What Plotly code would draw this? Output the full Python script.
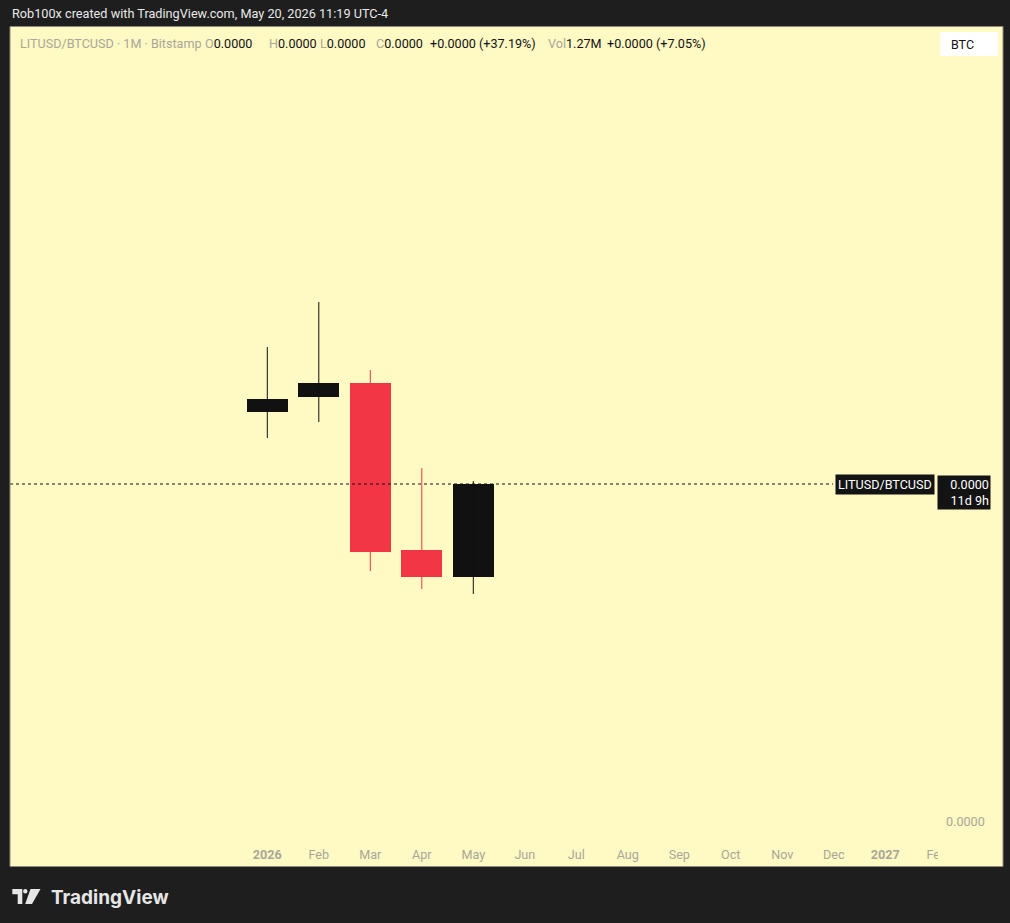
import plotly.graph_objects as go

# ---- data (prices in satoshi, 1e-8 BTC) ----
months = ["2026-01", "2026-02", "2026-03", "2026-04", "2026-05"]
open_ = [410, 425, 439, 272, 245]
high = [475, 520, 452, 354, 341]
low = [384, 400, 251, 233, 228]
close = [423, 439, 270, 245, 338]
last_price = 338

axis_labels = ["<b>2026</b>", "Feb", "Mar", "Apr", "May", "Jun", "Jul", "Aug",
               "Sep", "Oct", "Nov", "Dec", "<b>2027</b>", "Feb"]

# ---- styles ----
W, H = 1010, 923
ML, MR, MT, MB = 10, 72, 27, 85
PW, PH = W - ML - MR, H - MT - MB
BG = "#1e1e1e"
PANE = "#fff9c4"
UP = "#111111"
DOWN = "#f23645"
FONT = "Roboto"


def px(x):
    return (x - ML) / PW


def py(y):
    return (H - MB - y) / PH


idx = list(range(len(months)))
colors = [UP if c >= o else DOWN for o, c in zip(open_, close)]

fig = go.Figure()

# wicks
for col in (UP, DOWN):
    xs, ys = [], []
    for i, o, h, l, c in zip(idx, open_, high, low, close):
        if (UP if c >= o else DOWN) == col:
            xs += [i, i, None]
            ys += [l, h, None]
    fig.add_trace(go.Scatter(x=xs, y=ys, mode="lines",
                             line=dict(color=col, width=1),
                             hoverinfo="skip", showlegend=False))

# bodies
fig.add_trace(go.Bar(
    x=idx,
    base=[min(o, c) for o, c in zip(open_, close)],
    y=[abs(c - o) for o, c in zip(open_, close)],
    width=0.8,
    marker=dict(color=colors, line=dict(width=0)),
    showlegend=False,
    hovertext=months,
))

shapes = []
# pane background
shapes.append(dict(type="rect", xref="paper", yref="paper", layer="below",
                   x0=px(10), x1=px(1003), y0=py(866), y1=py(27),
                   fillcolor=PANE, line=dict(width=0)))
# last price dotted line
shapes.append(dict(type="line", xref="paper", yref="y",
                   x0=px(10), x1=px(833), y0=last_price, y1=last_price,
                   line=dict(color="#111111", width=1, dash="dot")))
# cover for clipped time label
shapes.append(dict(type="rect", xref="paper", yref="paper", layer="above",
                   x0=px(938), x1=px(1002.5), y0=py(865.5), y1=py(840),
                   fillcolor=PANE, line=dict(width=0)))
# pane border
shapes.append(dict(type="rect", xref="paper", yref="paper", layer="above",
                   x0=px(10), x1=px(1003), y0=py(866.5), y1=py(26.5),
                   line=dict(color="#8c8a78", width=1)))
# BTC button
shapes.append(dict(type="rect", xref="paper", yref="paper", layer="above",
                   x0=px(940), x1=px(998), y0=py(56), y1=py(32),
                   fillcolor="#ffffff", line=dict(width=0)))
# TradingView logo icon
LOGO = "#e6e6e6"
tpath = "M {} {} L {} {} L {} {} L {} {} L {} {} L {} {} Z".format(
    px(12.3), py(889), px(22.3), py(889), px(22.3), py(904),
    px(17.7), py(904), px(17.7), py(894.3), px(12.3), py(894.3))
shapes.append(dict(type="path", xref="paper", yref="paper", path=tpath,
                   fillcolor=LOGO, line=dict(width=0), layer="above"))
shapes.append(dict(type="circle", xref="paper", yref="paper", layer="above",
                   x0=px(23.1), x1=px(27.5), y0=py(893.4), y1=py(889),
                   fillcolor=LOGO, line=dict(width=0)))
spath = "M {} {} L {} {} L {} {} L {} {} Z".format(
    px(30.5), py(889), px(40.5), py(889), px(32), py(904), px(25.2), py(904))
shapes.append(dict(type="path", xref="paper", yref="paper", path=spath,
                   fillcolor=LOGO, line=dict(width=0), layer="above"))

G = "#a9a797"
K = "#131313"


def s(t, c):
    return '<span style="color:{}">{}</span>'.format(c, t)


# legend pieces: (left x in px, text)
legend_items = [
    (18, s("LITUSD/BTCUSD · 1M · Bitstamp", G)),
    (203, s("O", G) + s("0.0000", K)),
    (267, s("H", G) + s("0.0000", K)),
    (318, s("L", G) + s("0.0000", K)),
    (374, s("C", G) + s("0.0000", K)),
    (428, s("+0.0000 (+37.19%)", K)),
    (546, s("Vol", G) + s("1.27M", K)),
    (605, s("+0.0000 (+7.05%)", K)),
]

annotations = [
    dict(xref="paper", yref="paper", x=px(10), y=py(13), xanchor="left",
         yanchor="middle", showarrow=False,
         text="Rob100x created with TradingView.com, May 20, 2026 11:19 UTC-4",
         font=dict(family=FONT, size=12.7, color="#e8e8e8")),
    dict(xref="paper", yref="paper", x=px(949), y=py(44), xanchor="left",
         yanchor="middle", showarrow=False, text="BTC",
         font=dict(family=FONT, size=12.5, color="#131313")),
    dict(xref="paper", yref="y", x=px(935), y=last_price - 0.5, xanchor="right",
         yanchor="middle", showarrow=False, text="LITUSD/BTCUSD",
         bgcolor="#131313", borderpad=2,
         font=dict(family=FONT, size=12.6, color="#ffffff")),
    dict(xref="paper", yref="y", x=px(937), y=last_price + 9, xanchor="left",
         yanchor="top", showarrow=False, text="0.0000<br>11d 9h",
         align="right", width=50, bgcolor="#131313", borderpad=1,
         font=dict(family=FONT, size=12.6, color="#ffffff")),
    dict(xref="paper", yref="paper", x=px(48.5), y=py(897), xanchor="left",
         yanchor="middle", showarrow=False, text="<b>TradingView</b>",
         font=dict(family="Inter", size=19, color=LOGO)),
]
for x0, t in legend_items:
    annotations.append(dict(xref="paper", yref="paper", x=px(x0), y=py(43),
                            xanchor="left", yanchor="middle", showarrow=False,
                            text=t, font=dict(family=FONT, size=12.6, color=K)))

fig.update_layout(
    width=W, height=H,
    margin=dict(l=ML, r=MR, t=MT, b=MB),
    paper_bgcolor=BG, plot_bgcolor="rgba(0,0,0,0)",
    shapes=shapes, annotations=annotations,
    showlegend=False, bargap=0,
    xaxis=dict(range=[(10 - 267.3) / 51.5, (938 - 267.3) / 51.5],
               tickvals=list(range(len(axis_labels))), ticktext=axis_labels,
               showgrid=False, zeroline=False, showline=False, ticks="",
               ticklabelstandoff=7,
               tickfont=dict(family=FONT, size=12.6, color=G), fixedrange=True),
    yaxis=dict(range=[-16, 795], side="right", tickvals=[0],
               ticktext=["0.0000"], showgrid=False, zeroline=False,
               showline=False, ticks="", ticklabelstandoff=7,
               tickfont=dict(family=FONT, size=12.6, color=G), fixedrange=True),
)

fig.write_html(
    "out.html",
    config={"displayModeBar": False},
    post_script="document.body.style.margin='0';document.body.style.padding='0';"
                "document.body.style.overflow='hidden';"
                "document.body.style.background='#1e1e1e';",
)
